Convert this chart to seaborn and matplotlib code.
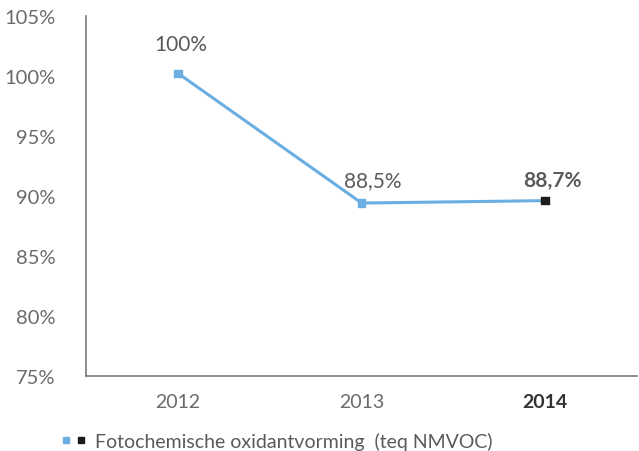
import pandas as pd
import matplotlib.pyplot as plt
import seaborn as sns
from matplotlib.lines import Line2D
from matplotlib.legend_handler import HandlerTuple

jaren = ['2012', '2013', '2014']
waarden = [100.2, 89.4, 89.6]
labels = ['100%', '88,5%', '88,7%']
reeks = 'Fotochemische oxidantvorming  (teq NMVOC)'

blauw = '#6aaee2'
zwart = '#1c1c1c'
grijs = '#5a5a5a'

sns.set_style('white')
plt.rcParams['font.family'] = ['Lato', 'DejaVu Sans']

df = pd.DataFrame({'jaar': jaren, 'waarde': waarden})
df['x'] = range(len(df))

fig = plt.figure(figsize=(6.39, 4.52), dpi=100)
ax = fig.add_axes([0.135, 0.166, 0.862, 0.797])

sns.lineplot(data=df, x='x', y='waarde', color=blauw, linewidth=2.2, ax=ax)
kleuren = [blauw, blauw, zwart]
ax.scatter(df['x'], df['waarde'], marker='s', s=30, c=kleuren, zorder=3)

# labels boven de punten (kleine verschuivingen zoals in het origineel)
verschuiving = [(2, 14), (8, 9), (5, 8)]
for i, (w, lab) in enumerate(zip(waarden, labels)):
    laatste = i == len(waarden) - 1
    ax.annotate(lab, (i, w), xytext=verschuiving[i], textcoords='offset points',
                ha='center', va='bottom', fontsize=15, color=grijs,
                fontweight='bold' if laatste else 'normal')

ax.set_xlim(-0.5, 2.5)
ax.set_ylim(75, 105)
ax.set_yticks(range(75, 106, 5))
ax.set_yticklabels([f'{v}%' for v in range(75, 106, 5)], fontsize=14.5, color='#6a6a6a')
ax.set_xticks(df['x'])
ax.set_xticklabels(jaren, fontsize=14, color='#6a6a6a')
ax.get_xticklabels()[-1].set_fontweight('bold')
ax.get_xticklabels()[-1].set_color('#333333')
ax.tick_params(axis='both', length=0, pad=12)
ax.tick_params(axis='y', pad=22)
ax.set_xlabel('')
ax.set_ylabel('')

for kant in ['top', 'right']:
    ax.spines[kant].set_visible(False)
for kant in ['left', 'bottom']:
    ax.spines[kant].set_color('#7a7a7a')
    ax.spines[kant].set_linewidth(1.2)

h1 = Line2D([], [], marker='s', color=blauw, linestyle='', markersize=5)
h2 = Line2D([], [], marker='s', color=zwart, linestyle='', markersize=5)
fig.legend([(h1, h2)], [reeks], handler_map={tuple: HandlerTuple(ndivide=None, pad=0.3)},
           loc='center left', bbox_to_anchor=(0.068, 0.022), frameon=False,
           labelcolor=grijs, handlelength=1.3, handletextpad=0.45,
           prop={'size': 14})

fig.savefig('out.png', dpi=100)
plt.close()
